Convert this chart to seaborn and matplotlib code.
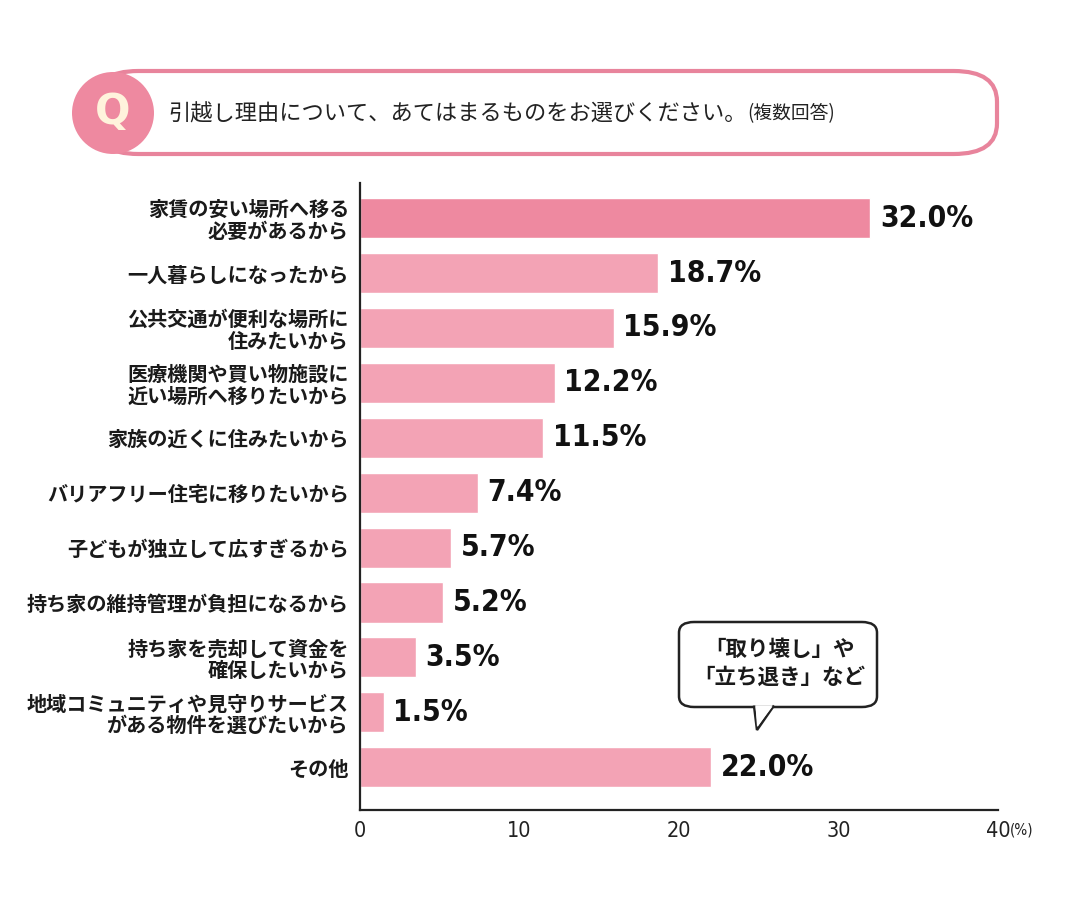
import matplotlib
matplotlib.use("Agg")
import matplotlib.pyplot as plt
import seaborn as sns
import pandas as pd
from matplotlib.patches import FancyBboxPatch, Ellipse, Polygon

categories = [
    "家賃の安い場所へ移る\n必要があるから",
    "一人暮らしになったから",
    "公共交通が便利な場所に\n住みたいから",
    "医療機関や買い物施設に\n近い場所へ移りたいから",
    "家族の近くに住みたいから",
    "バリアフリー住宅に移りたいから",
    "子どもが独立して広すぎるから",
    "持ち家の維持管理が負担になるから",
    "持ち家を売却して資金を\n確保したいから",
    "地域コミュニティや見守りサービス\nがある物件を選びたいから",
    "その他",
]
values = [32.0, 18.7, 15.9, 12.2, 11.5, 7.4, 5.7, 5.2, 3.5, 1.5, 22.0]
groups = ["top"] + ["rest"] * 10
xticks = [0, 10, 20, 30, 40]
title = "引越し理由について、あてはまるものをお選びください。"
title_sub = "(複数回答)"
bubble_text = "「取り壊し」や\n「立ち退き」など"

sns.set_theme(style="white")
plt.rcParams["font.family"] = ["Noto Sans CJK JP", "DejaVu Sans"]

df = pd.DataFrame({"label": categories, "value": values, "group": groups})

fig = plt.figure(figsize=(10.8, 9.08), dpi=100)
ax = fig.add_axes([360 / 1080, 1 - 810 / 908, (998 - 360) / 1080, (810 - 183) / 908])

sns.barplot(data=df, x="value", y="label", hue="group",
            palette={"top": "#EE89A0", "rest": "#F3A3B5"},
            dodge=False, legend=False, width=0.73, ax=ax, saturation=1)

ax.set_xlim(0, 40)
ax.set_ylim(10.78, -0.64)
ax.set_xlabel("")
ax.set_ylabel("")
for s in ["top", "right"]:
    ax.spines[s].set_visible(False)
for s in ["left", "bottom"]:
    ax.spines[s].set_color("#222222")
    ax.spines[s].set_linewidth(1.6)

ax.set_xticks(xticks)
ax.set_xticklabels([str(t) for t in xticks], fontsize=15.5, color="#222222",
                   family=["DejaVu Sans"], fontstretch="condensed")
ax.tick_params(axis="x", direction="in", length=9, width=1.4, color="#222222", pad=8)
ax.tick_params(axis="y", length=2, width=1, color="#555555", pad=6)
for lbl in ax.get_yticklabels():
    lbl.set_fontsize(14.5)
    lbl.set_fontweight("bold")
    lbl.set_color("#1a1a1a")
    lbl.set_linespacing(1.05)
    lbl.set_horizontalalignment("right")
    lbl.set_multialignment("right")

for i, v in enumerate(values):
    ax.text(v + 0.6, i, f"{v:.1f}%", va="center", ha="left", fontsize=21.5,
            color="#111111", family=["DejaVu Sans"], fontstretch="condensed",
            fontweight="bold")

fig.text(1010 / 1080, 1 - 830 / 908, "(%)", fontsize=11, color="#222222",
         va="center", ha="left", family=["DejaVu Sans"], fontstretch="condensed")

# Header pill
pill = FancyBboxPatch((95 / 1080, 1 - 154 / 908), (997 - 95) / 1080, (154 - 71) / 908,
                      boxstyle="round,pad=0,rounding_size=0.04",
                      transform=fig.transFigure, facecolor="white",
                      edgecolor="#E8849C", linewidth=3, mutation_aspect=908 / 1080)
fig.patches.append(pill)
ell = Ellipse((113 / 1080, 1 - 113 / 908), 82 / 1080, 82 / 908, transform=fig.transFigure,
              facecolor="#EE89A0", edgecolor="none")
fig.patches.append(ell)
fig.text(113 / 1080, 1 - 112 / 908, "Q", fontsize=30, fontweight="bold", color="#FFF3DC",
         ha="center", va="center", family=["DejaVu Sans"])
t = fig.text(168 / 1080, 1 - 114 / 908, title, fontsize=16, color="#222222",
             ha="left", va="center")
fig.canvas.draw()
bb = t.get_window_extent()
fig.text(bb.x1 / 1080 + 0.001, 1 - 114 / 908, title_sub, fontsize=13.5, color="#222222",
         ha="left", va="center")

# Speech bubble
bub = FancyBboxPatch((679 / 1080, 1 - 707 / 908), (877 - 679) / 1080, (707 - 622) / 908,
                     boxstyle="round,pad=0,rounding_size=0.014",
                     transform=fig.transFigure, facecolor="white",
                     edgecolor="#222222", linewidth=1.8, mutation_aspect=908 / 1080)
fig.patches.append(bub)
tail = Polygon([(754 / 1080, 1 - 705.5 / 908), (757 / 1080, 1 - 730 / 908),
                (774 / 1080, 1 - 705.5 / 908)], closed=False, transform=fig.transFigure,
               facecolor="white", edgecolor="#222222", linewidth=1.8, zorder=3)
fig.patches.append(tail)
cover = Polygon([(755.5 / 1080, 1 - 706.5 / 908), (757 / 1080, 1 - 727 / 908),
                 (772.5 / 1080, 1 - 706.5 / 908)], closed=True, transform=fig.transFigure,
                facecolor="white", edgecolor="none", zorder=4)
fig.patches.append(cover)
fig.text(779 / 1080, 1 - 663 / 908, bubble_text, fontsize=15.5, fontweight="bold",
         color="#1a1a1a", ha="center", va="center", linespacing=1.4, zorder=5)

fig.savefig("out.png", dpi=100)
